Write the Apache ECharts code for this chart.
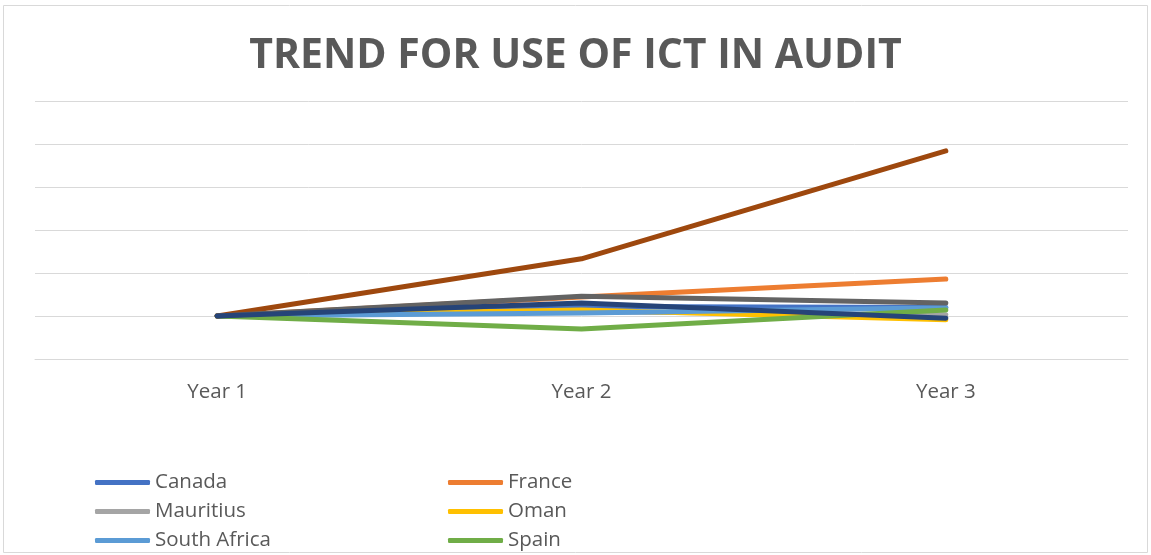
<!DOCTYPE html>
<html><head><meta charset="utf-8">
<script src="https://cdn.jsdelivr.net/npm/echarts@6/dist/echarts.min.js"></script>
<style>html,body{margin:0;padding:0;background:#fff}#c{width:1151px;height:555px}</style>
</head><body><div id="c"></div>
<script>
const categories = ['Year 1', 'Year 2', 'Year 3'];
const canada = [1, 1.22, 1.20];
const france = [1, 1.44, 1.86];
const mauritius = [1, 1.10, 1.03];
const oman = [1, 1.14, 0.91];
const southAfrica = [1, 1.07, 1.19];
const spain = [1, 0.70, 1.14];
const series7 = [1, 2.33, 4.84];
const series8 = [1, 1.46, 1.30];
const series9 = [1, 1.30, 0.95];
const legendCol1 = ['Canada', 'Mauritius', 'South Africa'];
const legendCol2 = ['France', 'Oman', 'Spain'];

const defs = [
  ['Canada', canada, '#4472C4'],
  ['France', france, '#ED7D31'],
  ['Mauritius', mauritius, '#A5A5A5'],
  ['Oman', oman, '#FFC000'],
  ['South Africa', southAfrica, '#5B9BD5'],
  ['Spain', spain, '#70AD47'],
  ['Series 7', series7, '#9E480E'],
  ['Series 8', series8, '#636363'],
  ['Series 9', series9, '#264478']
];
const chart = echarts.init(document.getElementById('c'));
const legendBase = {
  orient: 'vertical', itemWidth: 55, itemHeight: 5, itemGap: 8, icon: 'roundRect',
  textStyle: {color: '#595959', fontSize: 20.5, fontFamily: 'Open Sans'}, padding: 0
};
chart.setOption({
  animation: false,
  title: {text: 'TREND FOR USE OF ICT IN AUDIT', left: 'center', top: 31,
    textStyle: {color: '#595959', fontSize: 41, fontWeight: 'bold', fontFamily: 'Open Sans'}},
  graphic: [{type: 'rect', shape: {x: 3.5, y: 5.5, width: 1144, height: 547},
    style: {fill: 'none', stroke: '#D9D9D9', lineWidth: 1}, silent: true}],
  legend: [
    Object.assign({}, legendBase, {data: legendCol1, left: 95, top: 472}),
    Object.assign({}, legendBase, {data: legendCol2, left: 448, top: 472})
  ],
  grid: {left: 35, right: 23, top: 101, bottom: 196},
  xAxis: {type: 'category', data: categories, boundaryGap: true,
    axisLine: {show: true, lineStyle: {color: '#D9D9D9', width: 1}}, axisTick: {show: false},
    axisLabel: {color: '#595959', fontSize: 20.5, fontFamily: 'Open Sans', margin: 23}},
  yAxis: {type: 'value', min: 0, max: 6, interval: 1, axisLabel: {show: false},
    axisLine: {show: false}, axisTick: {show: false},
    splitLine: {lineStyle: {color: '#D9D9D9', width: 1}}},
  series: defs.map(d => ({
    name: d[0], type: 'line', data: d[1], symbol: 'none',
    lineStyle: {color: d[2], width: 5, cap: 'round', join: 'round'},
    itemStyle: {color: d[2]}
  }))
});
</script></body></html>
